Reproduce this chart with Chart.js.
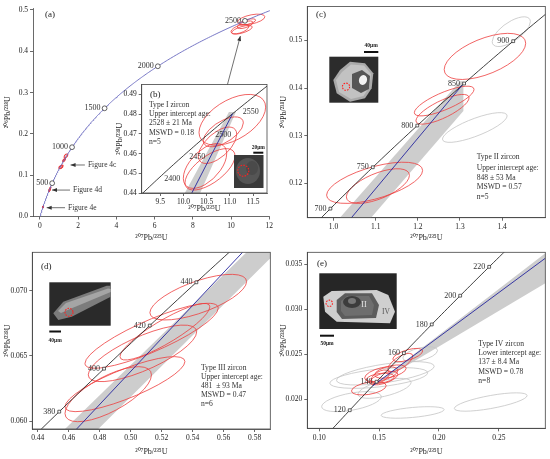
<!DOCTYPE html>
<html><head><meta charset="utf-8">
<script src="https://cdn.jsdelivr.net/npm/chart.js@4.4.1/dist/chart.umd.min.js"></script>
<style>
html,body{margin:0;padding:0;background:#fff;}
#wrap{position:relative;width:550px;height:459px;overflow:hidden;background:#fff;}
canvas{position:absolute;}
</style></head><body>
<div id="wrap">
<canvas id="cA" width="275" height="245" style="left:0px;top:0px;width:275px;height:245px"></canvas>
<canvas id="cC" width="275" height="245" style="left:275px;top:0px;width:275px;height:245px"></canvas>
<canvas id="cD" width="275" height="214" style="left:0px;top:245px;width:275px;height:214px"></canvas>
<canvas id="cE" width="275" height="214" style="left:275px;top:245px;width:275px;height:214px"></canvas>
<canvas id="cB" width="160" height="138" style="left:112px;top:78px;width:160px;height:138px"></canvas>
</div>
<script>
// ---------------- data ----------------
const L238 = 1.55125e-4;   // decay constants per Ma
const L235 = 9.8485e-4;
const xTitle = '²⁰⁷Pb/²³⁵U';
const yTitle = '²⁰⁶Pb/²³⁸U';

// (a) overview
const aXTicks = [0, 2, 4, 6, 8, 10, 12];
const aYTicks = [0, 0.1, 0.2, 0.3, 0.4, 0.5];
const aMarkerAges = [500, 1000, 1500, 2000, 2500];
const aCurveAges = [0, 2610, 10];

// (b) Type I zircon
const bXTicks = [9.5, 10.0, 10.5, 11.0, 11.5];
const bYTicks = [0.44, 0.45, 0.46, 0.47, 0.48, 0.49];
const bMarkerAges = [2400, 2450, 2500, 2550];
const bCurveAges = [2330, 2600, 5];
const bEllX = [11.053, 10.859, 10.734, 10.464, 10.572];
const bEllY = [0.4771, 0.4710, 0.4642, 0.4537, 0.4520];
const bEllSX = [0.718, 0.431, 0.414, 0.467, 0.539];
const bEllSY = [0.01288, 0.00758, 0.00924, 0.01136, 0.0105];
const bEllRho = [0.5, 0.6, 0.6, 0.55, 0.65];
const bDiscX = [10.18, 11.058];
const bDiscY = [0.44, 0.4802];
const bBandX = [10.03, 10.98, 11.13, 10.36];
const bBandY = [0.44, 0.481, 0.481, 0.44];

// (c) Type II zircon
const cXTicks = [1.0, 1.1, 1.2, 1.3, 1.4];
const cYTicks = [0.12, 0.13, 0.14, 0.15];
const cMarkerAges = [700, 750, 800, 850, 900];
const cCurveAges = [640, 960, 5];
const cEllX = [1.3592, 1.2625, 1.2585, 1.0974, 1.1052];
const cEllY = [0.14663, 0.13727, 0.13554, 0.12012, 0.11943];
const cEllSX = [0.0967, 0.0708, 0.0630, 0.1139, 0.0748];
const cEllSY = [0.00484, 0.00312, 0.00312, 0.00432, 0.00364];
const cEllRho = [0.57, 0.78, 0.77, 0.6, 0.62];
const cGrayX = [1.4217, 1.3351];
const cGrayY = [0.15182, 0.13172];
const cGraySX = [0.0453, 0.0767];
const cGraySY = [0.00312, 0.00312];
const cGrayRho = [0.67, 0.78];
const cDiscX = [1.0424, 1.3051];
const cDiscY = [0.1128, 0.14059];
const cBandX = [1.015, 1.300, 1.308, 1.308, 1.089];
const cBandY = [0.1128, 0.1414, 0.1414, 0.1352, 0.1128];

// (d) Type III zircon
const dXTicks = [0.44, 0.46, 0.48, 0.50, 0.52, 0.54, 0.56, 0.58];
const dYTicks = [0.060, 0.065, 0.070];
const dMarkerAges = [380, 400, 420, 440];
const dCurveAges = [360, 470, 2];
const dEllX = [0.5436, 0.5135, 0.5221, 0.5076, 0.4963, 0.4855];
const dEllY = [0.06950, 0.06654, 0.06685, 0.06519, 0.06283, 0.06206];
const dEllSX = [0.0312, 0.0430, 0.0290, 0.0350, 0.0387, 0.0279];
const dEllSY = [0.00175, 0.00249, 0.00217, 0.00217, 0.00211, 0.00211];
const dEllRho = [0.68, 0.85, 0.88, 0.76, 0.82, 0.7];
const dDiscX = [0.4651, 0.5722];
const dDiscY = [0.05939, 0.07294];
const dBandX = [0.4576, 0.5748, 0.5901, 0.5901, 0.4791];
const dBandY = [0.05939, 0.07294, 0.07294, 0.07248, 0.05939];

// (e) Type IV zircon
const eXTicks = [0.10, 0.15, 0.20, 0.25];
const eYTicks = [0.020, 0.025, 0.030, 0.035];
const eMarkerAges = [120, 140, 160, 180, 200, 220];
const eCurveAges = [95, 240, 2];
const eEllX = [0.1739, 0.1677, 0.1518, 0.1539, 0.1414, 0.1510, 0.1594, 0.1510];
const eEllY = [0.02492, 0.02409, 0.02279, 0.02234, 0.02122, 0.02252, 0.02308, 0.02234];
const eEllSX = [0.01246, 0.0104, 0.0139, 0.0118, 0.0145, 0.0076, 0.0132, 0.0117];
const eEllSY = [0.00074, 0.00102, 0.00083, 0.00074, 0.00074, 0.00074, 0.00074, 0.00056];
const eEllRho = [0.6, 0.7, 0.5, 0.6, 0.4, 0.5, 0.5, 0.3];
const eGrayX = [0.1497, 0.1552, 0.1545, 0.1269, 0.1780, 0.2432, 0.1843];
const eGrayY = [0.02237, 0.02289, 0.02122, 0.01974, 0.01854, 0.01970, 0.02501];
const eGraySX = [0.0409, 0.0408, 0.0222, 0.0249, 0.0263, 0.0304, 0.0145];
const eGraySY = [0.00115, 0.00130, 0.00111, 0.00111, 0.00064, 0.00102, 0.00083];
const eGrayRho = [0.5, 0.6, 0.6, 0.5, 0.5, 0.7, 0.5];
const eDiscX = [0.14445, 0.2888];
const eDiscY = [0.02148, 0.03567];
const eBandX = [0.1445, 0.2888, 0.2888];
const eBandY = [0.02148, 0.03622, 0.03289];

// ---------------- helpers ----------------
const FONT = 'Liberation Serif, Times New Roman, serif';
const RED = '#ee3d3d', GRAY = '#c4c4c4', BAND = '#cdcdcd', BLUE = '#25259e';

function conc(t) { return { x: Math.exp(L235 * t) - 1, y: Math.exp(L238 * t) - 1 }; }
function curve(r) { const p = []; for (let t = r[0]; t <= r[1] + 1e-9; t += r[2]) p.push(conc(t)); return p; }
function pairs(xs, ys) { return xs.map((x, i) => ({ x, y: ys[i] })); }

function lineDS(data, color, w) {
  return { data, showLine: true, borderColor: color, borderWidth: w, pointRadius: 0, fill: false, tension: 0 };
}
function markerDS(ages, style, r) {
  return { data: ages.map(conc), showLine: false, pointStyle: style, pointRadius: r,
    backgroundColor: '#fff', borderColor: '#222', borderWidth: 0.7 };
}

function ellipse(ctx, xs, ys, cx, cy, sx, sy, rho) {
  const px = xs.getPixelForValue(cx), py = ys.getPixelForValue(cy);
  const kx = xs.getPixelForValue(cx + sx) - px;
  const ky = ys.getPixelForValue(cy + sy) - py;
  ctx.save();
  ctx.transform(kx, ky * rho, 0, ky * Math.sqrt(1 - rho * rho), px, py);
  ctx.beginPath();
  ctx.arc(0, 0, 1, 0, Math.PI * 2);
  ctx.restore();
  ctx.stroke();
}
function ellipses(chart, X, Y, SX, SY, R, color, w) {
  const ctx = chart.ctx, xs = chart.scales.x, ys = chart.scales.y;
  ctx.save(); ctx.strokeStyle = color; ctx.lineWidth = w;
  for (let i = 0; i < X.length; i++) ellipse(ctx, xs, ys, X[i], Y[i], SX[i], SY[i], R[i]);
  ctx.restore();
}
function polygon(chart, X, Y, color) {
  const ctx = chart.ctx, xs = chart.scales.x, ys = chart.scales.y;
  ctx.save(); ctx.fillStyle = color; ctx.beginPath();
  X.forEach((x, i) => {
    const px = xs.getPixelForValue(x), py = ys.getPixelForValue(Y[i]);
    if (i === 0) ctx.moveTo(px, py); else ctx.lineTo(px, py);
  });
  ctx.closePath(); ctx.fill(); ctx.restore();
}
function clipArea(chart) {
  const a = chart.chartArea, ctx = chart.ctx;
  ctx.save(); ctx.beginPath(); ctx.rect(a.left, a.top, a.right - a.left, a.bottom - a.top); ctx.clip();
}
function box(chart) {
  const a = chart.chartArea, ctx = chart.ctx;
  ctx.save(); ctx.strokeStyle = '#444'; ctx.lineWidth = 0.8;
  ctx.strokeRect(a.left, a.top, a.right - a.left, a.bottom - a.top); ctx.restore();
}
function text(ctx, s, x, y, size, align, color, weight) {
  ctx.save();
  ctx.font = (weight || '') + ' ' + size + 'px ' + FONT;
  ctx.fillStyle = color || '#333'; ctx.textAlign = align || 'left'; ctx.textBaseline = 'middle';
  ctx.fillText(s, x, y); ctx.restore();
}
function block(ctx, lines, x, ys) { lines.forEach((s, i) => text(ctx, s, x, ys[i], 7.6, 'left', '#333')); }
function markerLabels(chart, ages, dx, dy, align) {
  const ctx = chart.ctx, xs = chart.scales.x, ys = chart.scales.y;
  ages.forEach(t => {
    const p = conc(t);
    text(ctx, String(t), xs.getPixelForValue(p.x) + dx, ys.getPixelForValue(p.y) + dy, 8, align, '#333');
  });
}
function arrow(ctx, x1, y1, x2, y2) {
  ctx.save(); ctx.strokeStyle = '#333'; ctx.fillStyle = '#333'; ctx.lineWidth = 0.7;
  ctx.beginPath(); ctx.moveTo(x1, y1); ctx.lineTo(x2, y2); ctx.stroke();
  const ang = Math.atan2(y2 - y1, x2 - x1), L = 5, W = 2;
  ctx.beginPath(); ctx.moveTo(x2, y2);
  ctx.lineTo(x2 - L * Math.cos(ang) + W * Math.sin(ang), y2 - L * Math.sin(ang) - W * Math.cos(ang));
  ctx.lineTo(x2 - L * Math.cos(ang) - W * Math.sin(ang), y2 - L * Math.sin(ang) + W * Math.cos(ang));
  ctx.closePath(); ctx.fill(); ctx.restore();
}
function poly(ctx, pts, fill) {
  ctx.beginPath(); pts.forEach((p, i) => i ? ctx.lineTo(p[0], p[1]) : ctx.moveTo(p[0], p[1]));
  ctx.closePath(); ctx.fillStyle = fill; ctx.fill();
}
function dashCircle(ctx, x, y, r) {
  ctx.save(); ctx.strokeStyle = '#ff2020'; ctx.lineWidth = 1.1; ctx.setLineDash([1.6, 1.2]);
  ctx.beginPath(); ctx.arc(x, y, r, 0, Math.PI * 2); ctx.stroke(); ctx.restore();
}
function scaleBar(ctx, x1, x2, y, label, ly) {
  ctx.fillStyle = '#111'; ctx.fillRect(x1, y - 1, x2 - x1, 2);
  text(ctx, label, (x1 + x2) / 2, ly, 5.5, 'center', '#222', 'bold');
}

function axis(min, max, ticks, dec, size, horizontal, title, tpad) {
  return {
    type: 'linear', min, max,
    afterBuildTicks: s => { s.ticks = ticks.map(v => ({ value: v })); },
    afterFit: s => { if (horizontal) s.height = size; else s.width = size; },
    ticks: { callback: v => Number(v).toFixed(dec), font: { family: FONT, size: 7.5 }, color: '#222',
      padding: 2, maxRotation: 0, autoSkip: false },
    grid: { drawOnChartArea: false, drawTicks: true, tickLength: 3, color: '#444', lineWidth: 0.8 },
    border: { display: true, color: '#444', width: 0.8 },
    title: { display: true, text: title, color: '#222', font: { family: FONT, size: 8 },
      padding: horizontal ? { top: 0, bottom: tpad } : { top: tpad, bottom: 0 } }
  };
}

function make(id, canvasRect, plot, yW, xH, xr, yr, xt, yt, xdec, ydec, tx, ty, datasets, plugin) {
  const [cl, ct, cw, ch] = canvasRect, [pl, pt, pr, pb] = plot;
  const padding = { left: pl - cl - yW, top: pt - ct, right: cl + cw - pr, bottom: ct + ch - pb - xH };
  return new Chart(document.getElementById(id), {
    type: 'scatter',
    data: { datasets },
    options: {
      responsive: false, animation: false, events: [],
      layout: { padding },
      plugins: { legend: { display: false }, tooltip: { enabled: false }, title: { display: false } },
      scales: {
        x: axis(xr[0], xr[1], xt, xdec, xH, true, xTitle, tx),
        y: axis(yr[0], yr[1], yt, ydec, yW, false, yTitle, ty)
      }
    },
    plugins: [plugin]
  });
}

// ---------------- panel (a) ----------------
make('cA', [0, 0, 275, 245], [33, 8, 270, 216.5], 33, 28.5, [-0.366, 12.03], [0, 0.5048],
  aXTicks, aYTicks, 0, 1, 2.2, 3.5,
  [markerDS(aMarkerAges, 'circle', 2.4), lineDS(curve(aCurveAges), '#6a6ac0', 0.9)],
  { id: 'decoA',
    beforeDatasetsDraw(chart) {
      clipArea(chart);
      ellipses(chart, bEllX, bEllY, bEllSX, bEllSY, bEllRho, RED, 0.8);
      ellipses(chart, cEllX, cEllY, cEllSX, cEllSY, cEllRho, RED, 1.1);
      ellipses(chart, dEllX, dEllY, dEllSX, dEllSY, dEllRho, RED, 1.1);
      ellipses(chart, eEllX, eEllY, eEllSX, eEllSY, eEllRho, RED, 1.1);
      chart.ctx.restore();
    },
    afterDatasetsDraw(chart) {
      const ctx = chart.ctx, xs = chart.scales.x, ys = chart.scales.y;
      const P = (x, y) => [xs.getPixelForValue(x), ys.getPixelForValue(y)];
      markerLabels(chart, aMarkerAges, -4, 0, 'right');
      text(ctx, '(a)', 45, 15, 9, 'left', '#222');
      const notes = [['Figure 4c', 2.35, 1.60, 0.1247], ['Figure 4d', 1.57, 0.63, 0.064], ['Figure 4e', 1.31, 0.35, 0.0213]];
      notes.forEach(n => {
        const a = P(n[1], n[3]), b = P(n[2], n[3]);
        arrow(ctx, a[0], a[1], b[0], b[1]);
        text(ctx, n[0], a[0] + 3, a[1], 7.5, 'left', '#333');
      });
      const s = P(9.76, 0.3104), e = P(10.49, 0.437);
      arrow(ctx, s[0], s[1], e[0], e[1]);
    }
  });

// ---------------- panel (b) inset ----------------
make('cB', [112, 78, 160, 138], [141.7, 84, 267, 193], 29.7, 23, [9.1, 11.8], [0.44, 0.4950],
  bXTicks, bYTicks, 1, 2, 2.2, 3.2,
  [lineDS(pairs(bDiscX, bDiscY), BLUE, 0.9), lineDS(curve(bCurveAges), '#111', 0.8)],
  { id: 'decoB',
    beforeDraw(chart) {
      const a = chart.chartArea, ctx = chart.ctx;
      ctx.save(); ctx.fillStyle = '#fff'; ctx.fillRect(a.left, a.top, a.right - a.left + 1, a.bottom - a.top + 20); ctx.restore();
    },
    beforeDatasetsDraw(chart) {
      clipArea(chart);
      polygon(chart, bBandX, bBandY, BAND);
      ellipses(chart, bEllX, bEllY, bEllSX, bEllSY, bEllRho, RED, 0.8);
      chart.ctx.restore();
    },
    afterDatasetsDraw(chart) {
      const ctx = chart.ctx;
      box(chart);
      markerLabels(chart, bMarkerAges, 6, 8, 'center');
      ctx.save(); ctx.translate(-112, -78);
      text(ctx, '(b)', 150, 95, 9, 'left', '#222');
      block(ctx, ['Type I zircon', 'Upper intercept age:', '2528 ± 21 Ma', 'MSWD = 0.18', 'n=5'], 149, [105, 114.3, 123.3, 132.5, 141.5]);
      ctx.fillStyle = '#3a3a3a'; ctx.fillRect(234, 155, 29.5, 33);
      ctx.fillStyle = '#555'; ctx.beginPath(); ctx.ellipse(248, 171, 12, 13, 0, 0, Math.PI * 2); ctx.fill();
      ctx.fillStyle = '#4a4a4a'; ctx.beginPath(); ctx.ellipse(252, 168, 6, 7, 0, 0, Math.PI * 2); ctx.fill();
      dashCircle(ctx, 243.3, 170.7, 5.5);
      scaleBar(ctx, 253.3, 263.3, 152.7, '20μm', 147.5);
      ctx.restore();
    }
  });

// ---------------- panel (c) ----------------
make('cC', [275, 0, 275, 245], [307.3, 5, 546.7, 217.7], 32.3, 27.3, [0.9377, 1.5024], [0.1128, 0.1571],
  cXTicks, cYTicks, 1, 2, 1.9, 4.6,
  [markerDS(cMarkerAges, 'rect', 2), lineDS(pairs(cDiscX, cDiscY), BLUE, 0.9), lineDS(curve(cCurveAges), '#111', 0.8)],
  { id: 'decoC',
    beforeDatasetsDraw(chart) {
      clipArea(chart);
      polygon(chart, cBandX, cBandY, BAND);
      ellipses(chart, cGrayX, cGrayY, cGraySX, cGraySY, cGrayRho, GRAY, 0.8);
      ellipses(chart, cEllX, cEllY, cEllSX, cEllSY, cEllRho, RED, 0.8);
      chart.ctx.restore();
    },
    afterDatasetsDraw(chart) {
      const ctx = chart.ctx;
      box(chart);
      markerLabels(chart, cMarkerAges, -4, 0, 'right');
      ctx.save(); ctx.translate(-275, 0);
      text(ctx, '(c)', 316, 15, 9, 'left', '#222');
      block(ctx, ['Type II zircon', 'Upper intercept age:', '848 ± 53 Ma', 'MSWD = 0.57', 'n=5'], 476.7, [156.7, 168.3, 178.3, 187.3, 196.7]);
      ctx.fillStyle = '#2c2c2c'; ctx.fillRect(329.3, 56.7, 49, 46);
      poly(ctx, [[340, 70], [350, 61.7], [365, 63.3], [373.3, 73.3], [371.7, 88.3], [365, 98.3], [350, 101.7], [336.7, 93.3], [333.3, 80]], '#a9a9a9');
      poly(ctx, [[342, 72], [351, 64.5], [364, 65.5], [371, 74], [369.5, 87], [363.5, 96], [351, 99], [339, 92], [336, 80]], '#c2c2c2');
      poly(ctx, [[352, 74], [362, 70], [370, 76], [369, 89], [361, 93], [352, 88]], '#555');
      ctx.fillStyle = '#f2f2f2'; ctx.beginPath(); ctx.ellipse(363, 80, 4, 5, 0.3, 0, Math.PI * 2); ctx.fill();
      dashCircle(ctx, 346, 86.7, 3.6);
      scaleBar(ctx, 364, 378.3, 52, '40μm', 46);
      ctx.restore();
    }
  });

// ---------------- panel (d) ----------------
make('cD', [0, 245, 275, 214], [32.3, 252.3, 271.7, 429], 32.3, 30, [0.4365, 0.5901], [0.05939, 0.07294],
  dXTicks, dYTicks, 2, 3, 2.5, 3,
  [markerDS(dMarkerAges, 'rect', 2), lineDS(pairs(dDiscX, dDiscY), BLUE, 0.9), lineDS(curve(dCurveAges), '#111', 0.8)],
  { id: 'decoD',
    beforeDatasetsDraw(chart) {
      clipArea(chart);
      polygon(chart, dBandX, dBandY, BAND);
      ellipses(chart, dEllX, dEllY, dEllSX, dEllSY, dEllRho, RED, 0.8);
      chart.ctx.restore();
    },
    afterDatasetsDraw(chart) {
      const ctx = chart.ctx;
      box(chart);
      markerLabels(chart, dMarkerAges, -4, 0, 'right');
      ctx.save(); ctx.translate(0, -245);
      text(ctx, '(d)', 41, 266.7, 9, 'left', '#222');
      block(ctx, ['Type III zircon', 'Upper intercept age:', '481  ± 93 Ma', 'MSWD = 0.47', 'n=6'], 201, [367.7, 376.7, 385.7, 395, 404.3]);
      ctx.fillStyle = '#2a2a2a'; ctx.fillRect(49.3, 282.3, 61.4, 43.4);
      poly(ctx, [[53.3, 313.3], [63.3, 301.7], [106.7, 285.7], [110.7, 285.7], [110.7, 296.7], [71.7, 316.7], [58.3, 320]], '#7c7c7c');
      poly(ctx, [[58, 311], [66, 303], [108, 288.5], [110.7, 289], [110.7, 292], [70, 309], [61, 313]], '#a5a5a5');
      dashCircle(ctx, 69, 312.3, 4);
      scaleBar(ctx, 49.3, 61, 331.5, '40μm', 340.5);
      ctx.restore();
    }
  });

// ---------------- panel (e) ----------------
make('cE', [275, 245, 275, 214], [307.3, 252.3, 546.7, 428.3], 32.3, 30.7, [0.0900, 0.2888], [0.01678, 0.03633],
  eXTicks, eYTicks, 2, 3, 2.5, 4.6,
  [markerDS(eMarkerAges, 'rect', 2), lineDS(pairs(eDiscX, eDiscY), BLUE, 0.9), lineDS(curve(eCurveAges), '#111', 0.8)],
  { id: 'decoE',
    beforeDatasetsDraw(chart) {
      clipArea(chart);
      polygon(chart, eBandX, eBandY, BAND);
      ellipses(chart, eGrayX, eGrayY, eGraySX, eGraySY, eGrayRho, GRAY, 0.8);
      ellipses(chart, eEllX, eEllY, eEllSX, eEllSY, eEllRho, RED, 0.8);
      chart.ctx.restore();
    },
    afterDatasetsDraw(chart) {
      const ctx = chart.ctx;
      box(chart);
      markerLabels(chart, eMarkerAges, -4, 0, 'right');
      ctx.save(); ctx.translate(-275, -245);
      text(ctx, '(e)', 317, 263.3, 9, 'left', '#222');
      block(ctx, ['Type IV zircon', 'Lower intercept age:', '137 ± 8.4 Ma', 'MSWD = 0.78', 'n=8'], 478.3, [344.3, 353.3, 362.3, 371.7, 380.7]);
      ctx.fillStyle = '#262626'; ctx.fillRect(319.3, 273.3, 77.4, 55.7);
      poly(ctx, [[323.3, 296.7], [331.7, 291], [376.7, 290], [388.3, 295], [395, 311.7], [390, 323.3], [336.7, 321.7], [325, 311.7]], '#cfcfcf');
      poly(ctx, [[336.7, 300], [345, 293.3], [372, 293.3], [379, 305], [376, 318], [342, 319], [336.7, 312]], '#5c5c5c');
      poly(ctx, [[341, 301], [347, 296], [369, 296], [374, 305], [372, 315], [345, 316], [341, 311]], '#6e6e6e');
      ctx.fillStyle = '#3c3c3c'; ctx.beginPath(); ctx.ellipse(352, 302, 9, 6, 0, 0, Math.PI * 2); ctx.fill();
      ctx.fillStyle = '#777'; ctx.beginPath(); ctx.ellipse(352, 301, 4, 3, 0, 0, Math.PI * 2); ctx.fill();
      text(ctx, 'II', 364, 305, 8, 'center', '#e8e8e8');
      text(ctx, 'IV', 386, 312, 7.5, 'center', '#555');
      dashCircle(ctx, 329.3, 303.3, 3.2);
      scaleBar(ctx, 320, 334, 335.7, '50μm', 343.5);
      ctx.restore();
    }
  });
</script>
</body></html>
